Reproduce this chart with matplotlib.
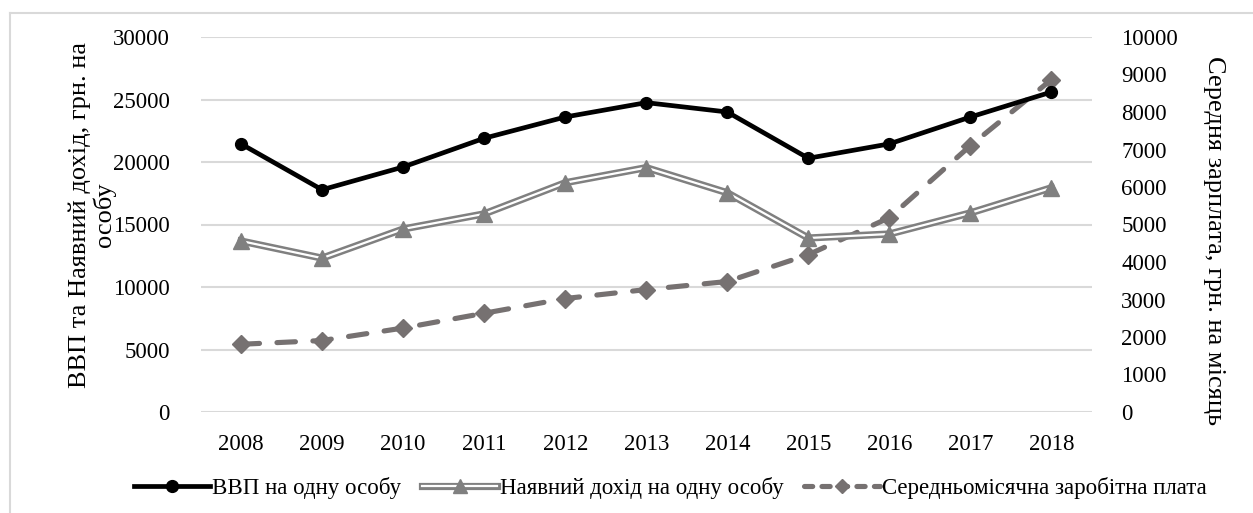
import matplotlib
matplotlib.use("Agg")
import matplotlib.pyplot as plt
from matplotlib.lines import Line2D
from matplotlib.legend_handler import HandlerTuple

years = ["2008", "2009", "2010", "2011", "2012", "2013", "2014", "2015", "2016", "2017", "2018"]
gdp = [21450, 17780, 19600, 21900, 23600, 24750, 24000, 20300, 21450, 23600, 25600]
income = [13680, 12310, 14640, 15850, 18340, 19550, 17540, 13920, 14240, 15930, 17940]
wage = [1806, 1906, 2239, 2633, 3026, 3265, 3480, 4195, 5183, 7104, 8865]

left_ticks = [0, 5000, 10000, 15000, 20000, 25000, 30000]
right_ticks = [0, 1000, 2000, 3000, 4000, 5000, 6000, 7000, 8000, 9000, 10000]

label_gdp = "ВВП на одну особу"
label_income = "Наявний дохід на одну особу"
label_wage = "Середньомісячна заробітна плата"
ylabel_left = "ВВП та Наявний дохід, грн. на\nособу"
ylabel_right = "Середня зарплата, грн. на місяць"

plt.rcParams['font.family'] = ['Liberation Serif', 'DejaVu Serif']
FS = 16.5
FSL = 19

W, H = 1253, 513
fig = plt.figure(figsize=(W / 100, H / 100), dpi=100)
fig.patch.set_facecolor("white")

pos = [200.5 / W, 1 - 412 / H, (1092 - 200.5) / W, (412 - 37) / H]
ax = fig.add_axes(pos)          # grid + left ticks (bottom layer)
ax2 = ax.twinx()                # wage (middle layer)
ax3 = ax.twinx()                # gdp & income (top layer)
ax.set_zorder(0)
ax2.set_zorder(1)
ax3.set_zorder(2)
for a in (ax2, ax3):
    a.patch.set_visible(False)

x = list(range(len(years)))

GRID = "#d9d9d9"
ax.set_ylim(0, 30000)
ax.set_yticks(left_ticks)
ax.set_yticklabels([str(t) for t in left_ticks])
ax.set_xlim(-0.5, len(years) - 0.5)
ax.set_xticks(x)
ax.set_xticklabels(years)
ax.grid(axis="y", color=GRID, lw=1.5)
ax.set_axisbelow(True)
ax.tick_params(axis="both", length=0, labelsize=FS)
ax.tick_params(axis="y", pad=22)
ax.tick_params(axis="x", pad=16)

ax3.set_ylim(ax.get_ylim())
ax3.set_yticks([])

ax2.set_ylim(0, 10000)
ax2.set_yticks(right_ticks)
ax2.set_yticklabels([str(t) for t in right_ticks])
ax2.tick_params(axis="y", length=0, labelsize=FS, pad=21)

for a in (ax, ax2, ax3):
    for s in a.spines.values():
        s.set_visible(False)

# wage: dashed with diamonds
WAGE_C = "#767171"
ax2.plot(x, wage, color=WAGE_C, lw=3.7, dashes=(3.6, 3.4), dash_capstyle="round",
         marker="D", markersize=9, markerfacecolor=WAGE_C, markeredgecolor=WAGE_C)

# income: double line with triangles
INC_C = "#808080"
ax3.plot(x, income, color=INC_C, lw=5.2, solid_joinstyle="miter")
ax3.plot(x, income, color="white", lw=1.6)
ax3.plot(x, income, ls="none", marker="^", markersize=12, color=INC_C)

# gdp: black with circles
ax3.plot(x, gdp, color="black", lw=3.4, marker="o", markersize=8.5,
         solid_capstyle="round", solid_joinstyle="round")

# axis labels
fig.text(92 / W, 1 - 215 / H, ylabel_left, rotation=90, ha="center", va="center",
         multialignment="center", fontsize=FSL, linespacing=1.1)
fig.text(1214 / W, 1 - 241 / H, ylabel_right, rotation=-90, ha="center", va="center",
         fontsize=FSL)

# legend
h_gdp = Line2D([], [], color="black", lw=3.4, marker="o", markersize=8.5)
h_inc = (Line2D([], [], color=INC_C, lw=5.2),
         Line2D([], [], color="white", lw=1.6),
         Line2D([], [], ls="none", marker="^", markersize=10, color=INC_C))
h_wage = Line2D([], [], color=WAGE_C, lw=3.7, dashes=(1.6, 1.8), dash_capstyle="round",
                marker="D", markersize=7, markerfacecolor=WAGE_C, markeredgecolor=WAGE_C)
fig.legend([h_gdp, h_inc, h_wage], [label_gdp, label_income, label_wage],
           handler_map={tuple: HandlerTuple(ndivide=1)},
           loc="center", bbox_to_anchor=(0.535, 1 - 488 / H), ncol=3, frameon=False,
           fontsize=FS, handlelength=3.3, handletextpad=0.1, columnspacing=0.9)

# outer frame (top & left visible)
fig.add_artist(Line2D([10 / W, 10 / W], [0, 1 - 13 / H], transform=fig.transFigure,
                      color=GRID, lw=1.5))
fig.add_artist(Line2D([10 / W, 1], [1 - 13 / H, 1 - 13 / H], transform=fig.transFigure,
                      color=GRID, lw=1.5))

fig.savefig("out.png", dpi=100)
